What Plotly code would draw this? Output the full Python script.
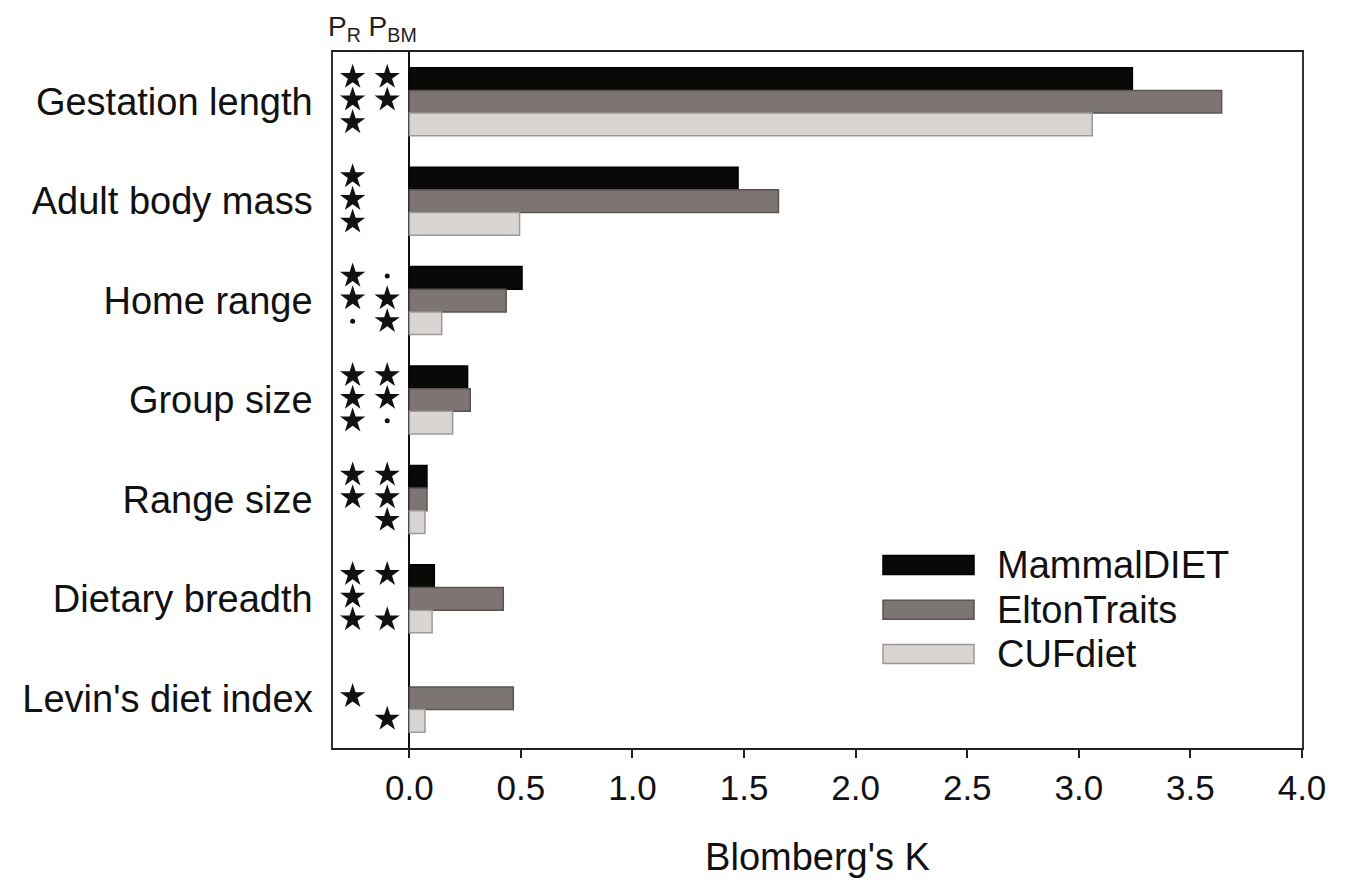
import plotly.graph_objects as go

categories = ["Gestation length", "Adult body mass", "Home range", "Group size",
              "Range size", "Dietary breadth", "Levin's diet index"]
series_names = ["MammalDIET", "EltonTraits", "CUFdiet"]
mammaldiet = [3.24, 1.473, 0.505, 0.261, 0.079, 0.112, None]
eltontraits = [3.64, 1.654, 0.434, 0.273, 0.079, 0.421, 0.466]
cufdiet = [3.06, 0.494, 0.145, 0.194, 0.070, 0.102, 0.070]
# significance symbols per category: [MammalDIET, EltonTraits, CUFdiet]
# "*" significant, "." marginal, "" none
p_r = [["*", "*", "*"], ["*", "*", "*"], ["*", "*", "."], ["*", "*", "*"],
       ["*", "*", ""], ["*", "*", "*"], ["", "*", ""]]
p_bm = [["*", "*", ""], ["", "", ""], [".", "*", "*"], ["*", "*", "."],
        ["*", "*", "*"], ["*", "", "*"], ["", "", "*"]]
x_ticks = [0, 0.5, 1.0, 1.5, 2.0, 2.5, 3.0, 3.5, 4.0]

fills = ["#0b0907", "#7d7574", "#d9d5d3"]
edges = ["#000000", "#5a5352", "#9e9998"]
FONT = "Liberation Sans, Arial, sans-serif"

values = [mammaldiet, eltontraits, cufdiet]
ypos = list(range(len(categories)))

fig = go.Figure()
for name, vals, fc, ec in zip(series_names, values, fills, edges):
    fig.add_trace(go.Bar(
        y=ypos, x=vals, name=name, orientation="h",
        marker=dict(color=fc, line=dict(color=ec, width=1.5)),
        showlegend=False, hoverinfo="x+name",
    ))

BARGAP = 0.316
slot = (1 - BARGAP) / 3
col_x = {"pr": -0.254, "pbm": -0.099}
sym_style = {"*": dict(symbol="star", size=19), ".": dict(symbol="circle", size=5)}

for col, table in (("pr", p_r), ("pbm", p_bm)):
    for s, st in sym_style.items():
        xs, ys = [], []
        for i, row in enumerate(table):
            for j, v in enumerate(row):
                if v == s:
                    xs.append(col_x[col])
                    ys.append(i + (j - 1) * slot - 0.02)
        if xs:
            fig.add_trace(go.Scatter(
                x=xs, y=ys, mode="markers", showlegend=False, hoverinfo="skip",
                marker=dict(symbol=st["symbol"], size=st["size"], color="#111111",
                            line=dict(width=0)),
            ))

annotations = []
# header
annotations.append(dict(
    x=-0.163, y=1, xref="x", yref="paper", yanchor="middle", xanchor="center",
    yshift=24, showarrow=False,
    text="P<sub>R</sub> P<sub>BM</sub>",
    font=dict(family=FONT, size=28, color="#222222"),
))

# manual legend (paper coordinates)
L, T, W, H = 333, 52, 969, 696
def px(xp):
    return (xp - L) / W
def py(yp):
    return (T + H - yp) / H

shapes = []
row_centers = [565, 609.7, 654]
for name, fc, ec, yc in zip(series_names, fills, edges, row_centers):
    shapes.append(dict(type="rect", xref="paper", yref="paper",
                       x0=px(883), x1=px(974), y0=py(yc + 9.5), y1=py(yc - 9.5),
                       fillcolor=fc, line=dict(color=ec, width=1.5)))
    annotations.append(dict(x=px(995), y=py(yc), xref="paper", yref="paper",
                            xanchor="left", yanchor="middle", showarrow=False,
                            text=name,
                            font=dict(family=FONT, size=38, color="#111111")))

fig.update_layout(
    width=1351, height=895,
    margin=dict(l=L, r=1351 - L - W, t=T, b=895 - T - H),
    paper_bgcolor="white", plot_bgcolor="white",
    barmode="group", bargap=BARGAP, bargroupgap=0,
    annotations=annotations, shapes=shapes,
    showlegend=False,
)
fig.update_xaxes(
    range=[-0.342, 4.0], tickvals=x_ticks, tickformat=".1f",
    ticks="outside", ticklen=8, tickwidth=1.5, tickcolor="#222",
    showline=True, linecolor="#222", linewidth=1.5, mirror=True,
    showgrid=False, zeroline=True, zerolinecolor="#111", zerolinewidth=2,
    tickfont=dict(family=FONT, size=35, color="#111"),
    title=dict(text="Blomberg's K", font=dict(family=FONT, size=38, color="#111"),
               standoff=38),
)
fig.update_yaxes(
    range=[6.5, -0.5], tickvals=ypos, ticktext=categories,
    ticks="outside", ticklen=0, ticklabelstandoff=11,
    showline=True, linecolor="#333", linewidth=1.5, mirror=True,
    showgrid=False, zeroline=False,
    tickfont=dict(family=FONT, size=38, color="#111"),
)

fig.write_html("out.html")
